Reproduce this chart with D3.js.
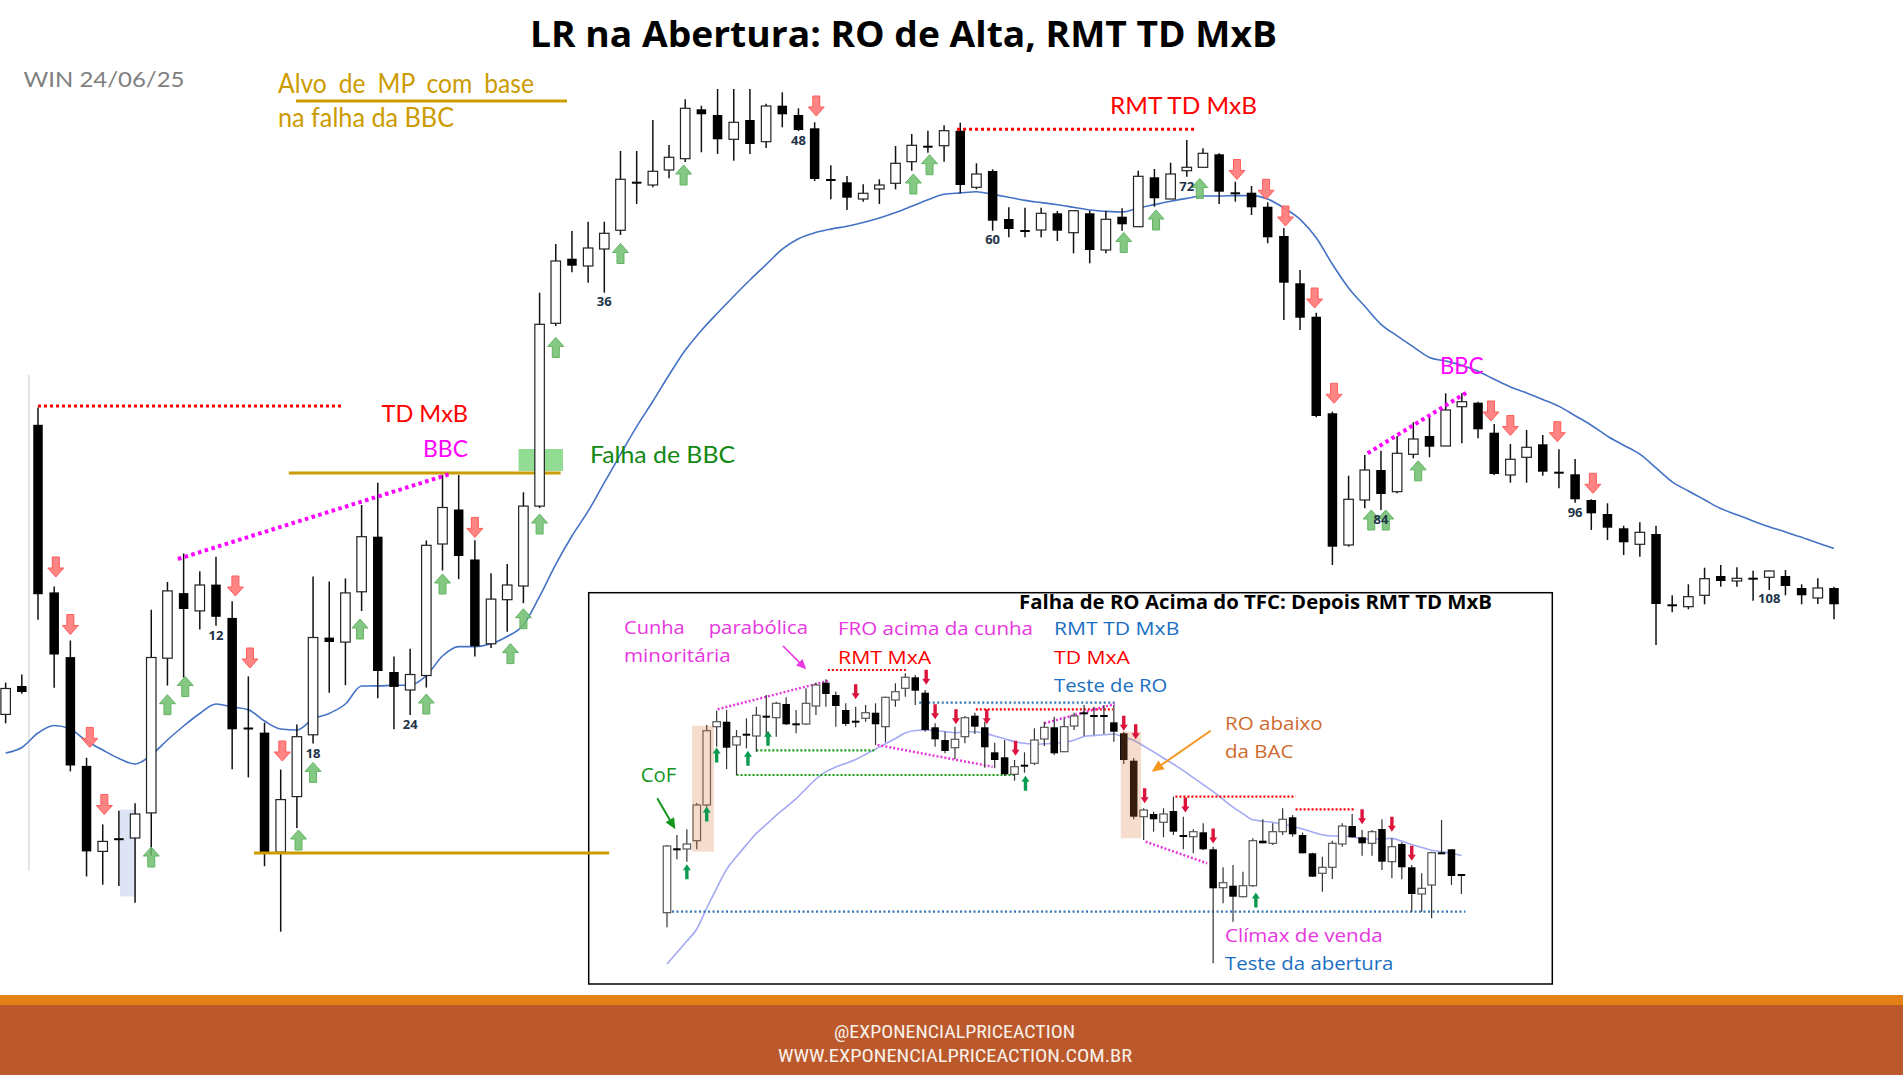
<!DOCTYPE html>
<html lang="pt-BR">
<head>
<meta charset="utf-8">
<title>LR na Abertura: RO de Alta, RMT TD MxB</title>
<script src="https://cdn.jsdelivr.net/npm/d3@7"></script>
<style>
html,body{margin:0;padding:0;background:#fff;overflow:hidden;}
svg{display:block;}
</style>
</head>
<body>
<svg id="chart" width="1903" height="1075"></svg>
<script>
// ===================== DATA (price in chart points) =====================
// Main chart: candles -1 and 0 are from the previous session, then candles 1..112
const mainFirstIndex = -1;
const mainOpen = [285.6,314,575.2,407.6,342.9,234.1,148.6,160.8,162,187.1,
341.8,406.9,389.1,415.4,382.1,271.5,267.4,147.9,203.4,265.2,
362.4,357.9,408.2,463.3,328,310,324.5,456,490.5,440.5,
356.2,400.3,414,493.9,676.7,741.3,734,751,769.7,817.3,
815,830,841.3,890.7,885,860.7,880,858.3,894.3,885,
871.7,820,817.7,801,811,816.7,838.3,853.3,854.3,869.3,
812.7,829,781,769,770,786.7,767.3,786.7,750,783.3,
773.3,822.7,801,829.3,832.7,845.7,806.7,807.3,793.3,764,
716.7,683.3,586.7,455,500,530,508.3,545.7,564,554,
593.3,597.3,567.3,525,542.7,555.7,527.3,525.7,500,486,
471.7,455.7,466,394.7,393.3,404.7,424,419,421.3,422.7,
424,412,402,412];
const mainHigh = [317.4,325.5,592.6,413.6,359.5,242.2,175.6,189.3,196.7,390.2,
418,446.5,428.7,443.2,398.8,323.6,277.4,230.4,275.6,423.6,
418.5,421.6,495,517.3,343.4,351.3,459.5,524.9,525,459.8,
426.8,436,507.7,707.3,756,769,778.3,778.3,849,849,
880,855,900.7,894.3,911,911,911,896.3,907.7,891.7,
877.7,834.7,824,815.7,820.7,854,866,869.3,874.7,877.3,
836.7,830.7,792.7,792.3,792.3,789,790,789.3,789,791.7,
829.3,831,837.3,860,851.7,846.7,818.3,814,797.7,772,
730,687.3,588.3,524.3,545,549.3,564,577.7,584,606.7,
606.7,598.3,576,556,570,565,550.7,541,500.7,496.7,
474.3,477.7,474.3,404.7,415.7,432.3,435,432.7,429.3,429.3,
430,415.7,421.7,413.3];
const mainLow = [276.7,306.3,380.3,312.2,228.6,123.5,115.3,113.9,97.2,144.2,
314.4,322.5,370.6,374.3,230.8,222.6,133.8,68.3,172,256.4,
307.3,314.8,389,301.7,270.8,284.9,312.4,429.5,420.9,343.4,
352,368.2,396.8,492,674,727.7,717.3,707.3,765,796,
812.7,821.7,838,847.7,846,839.3,846,852,872.7,869,
819,800.7,790,798.3,796,810.7,829.3,847.3,838.3,806.7,
810.7,769.3,762.7,762.7,762.7,759,746.7,736.7,746.7,769.3,
773.3,793.3,801,823.3,832.7,796,798.3,785,756.7,680,
670,582.7,435,453.3,491.7,490,506.7,541.7,542.7,554,
556.7,561.7,525,517.3,517.3,524.3,511.7,497.3,470,460,
445,443.3,355,387.7,390.7,395.7,413.3,413.3,399.3,410,
404.7,395.7,396,380.7];
const mainClose = [311.5,308,405.8,345.5,234.5,148.6,158.6,160.8,186,342.5,
409.1,391,415,383.2,270.7,271.5,147.2,200.4,263.3,362.5,
358,407.1,463.3,329,313.1,325.5,454.7,492.5,444,353.8,
400.9,415,493.9,675.7,739,734.3,752,766.7,820.7,817.3,
828.7,842.7,891.7,885.7,860.7,877.7,856,894,885.7,870,
821,820,802.3,806.7,815,836.7,854.7,853.3,869.3,815,
826,779.3,771,769,786.7,769.3,789.3,750,780.7,775.7,
823.7,801.7,826,832.7,846.7,808.3,806.7,792.7,762.7,717.3,
682.3,584,453.3,500.7,530,506,546.7,561,553.3,590,
598.3,570.7,526,540.7,552.7,528.3,527.3,500.7,486.7,472.3,
457.7,467.7,396,394.7,403.3,421.3,419,421.7,421.3,429,
414,404.7,412,395.7];
const mainEma = [247,252.5,267,274.5,271,259,250,241.5,236,245,
260,274,286.5,296,293,290.3,279,271,270,281,
286.6,296,314,314.1,314.7,314.8,324.3,344,353.4,353.4,
356.2,363.5,375,403.6,435.6,464,488.8,517.3,545.7,573.4,
598.7,625,649.7,669.6,687,703.8,720,735.4,750.8,761.3,
767.2,770.9,773.8,777.5,782,787.5,793.8,800.3,805.7,807.1,
808.3,805.6,802.7,799.6,797.4,795.3,792.7,790,788.7,788,
792,795.4,798.7,801.6,804,804,804.4,804.4,801,792,
780.7,762.3,735.7,712,693.7,675.7,664.1,653.1,642.6,639,
634.7,628.7,620.7,613.1,607.1,600.6,593.6,584.3,574.8,563.8,
554.8,545.8,532.1,518.2,509,500.2,491.4,485.3,479.1,473.2,
468,462.7,457,451.4];
const mainCountLabels = [12,18,24,36,48,60,72,84,96,108];
const mainCountLabelLevel = [365.5,247,276.3,699,860,760.7,814,481,488.3,402];
// signal arrows: [candle position, price level]
const mainBuyArrows = [[8,143],[9,295.3],[10.1,313.5],[17.1,160],[18,227.6],[20.9,371],[25,296],[26,416],[30.2,346.4],[31,381.3],[32,476],[33,652.6],[37,746.5],[40.9,825],[55.1,816],[56.1,835.3],[68.1,757.5],[70.1,780],[72.8,811.5],[83.4,480],[84.3,480],[86.3,529.2]];
const mainSellArrows = [[2.1,433],[3,375.5],[4.2,262.6],[5.1,195.5],[13.2,414],[14.1,342],[16.1,249],[28,472.6],[49.1,894],[75.1,830.5],[76.9,810.7],[78.1,784],[79.9,702],[81.1,606.7],[90.8,589],[92,574.5],[94.9,568.3],[97.1,516.7]];
// reference levels / trend lines: [from, to, level] or [from, level, to, level]
const mainRedLevels = [[1,19.85,594],[57.8,72.5,870.7]];
const mainWedgeLines = [[9.65,441,26.46,526],[83.18,546.7,89.38,608.3]];
const mainGoldLevels = [[16.5,33.3,527],[14.35,36.3,147]];
const mainFailBox = [30.7,33.45,529,551];
const mainBlueZone = [6.07,7.0,103.5,190.4];
const sessionBreak = [0.44,129,625];

// Inset chart: candles 0..80
const insetOpen = [87.3,150.7,151,159.3,195,273.3,278.3,255,265.3,264,
283.3,282.3,296,275.7,276,294,317.3,305,290,278.3,
281.7,287.3,273.3,300,311.7,322.7,307.3,272.7,260,252.3,
263.3,284.3,272.7,247.7,242.7,225.7,234.3,236.7,261,272.7,
248.3,274,286.7,284,284,277.7,266.7,239.3,183.3,186,
177.7,189,164,163.3,167.7,150.7,112.3,114.3,103.3,114.3,
159.3,156.7,168.3,182.7,165,146.7,126.7,132.7,156,174,
162.7,156.7,171,138.3,156,132.7,106,115,146.7,150.7,125];
const insetHigh = [155,165,170.7,197,275,289.3,290,270,281.7,293.3,
305,298.3,302.7,290,311.7,317.3,320.7,308.3,296.7,293.3,
295,296.7,303.3,316.7,326.7,325,310,276.7,268.3,273.3,
284,287.3,278.3,257.3,260,240,247.7,271.7,278.3,283.3,
281.7,287.3,295,293.3,295,295,268.3,242,191.7,188.3,
191.7,203.3,183.3,170.7,176.7,153.3,132.7,135,128.3,161.7,
180.7,176.7,191.7,185,167.3,147.3,143.3,159.3,176.7,186,
170,170,180.7,161.7,157.7,135,126.7,148.3,180,150.7,125];
const insetLow = [72.7,140.7,138.3,150.7,193.3,253.3,231,225,251.7,248.3,
263.3,263.3,275,266.7,275,285,293.3,273.3,274,272.7,
278.3,255,257.7,293.3,303.3,295,268.3,253.3,246.7,240.7,
256.7,266,232.3,231.7,224.3,219.3,227.3,235,254,245,
248.3,270,264,265,266,258.3,236,180.7,160,168.3,
162.7,165,150.7,146.7,150,36.7,96.7,78.3,102.7,113.3,
156.7,155,165,163.3,146.7,123.3,108.3,121,153.3,162.7,
144.3,144.3,130,121.7,120.7,88.3,88.3,81.7,146,115,106];
const insetClose = [154,150.7,156,195,269.3,278.3,252.3,263.3,265.3,284.7,
283.3,296.7,275.7,275.7,296.7,315,306,294,276,278.3,
287.3,275.7,302.7,308.3,322.7,309.3,270,260.7,249,260.7,
282.3,273.3,252.7,240,225.7,233.3,234.3,260,272.7,246.7,
273.3,284,286.7,284,284,268.3,240,183.3,190,180.7,
186,168.3,164,168.3,150.7,111.7,117.3,103.3,114.3,159.3,
156.7,168.3,180.7,165.7,146.7,123.3,132.7,156.7,174,162.7,
156.7,168.3,138.3,153.3,132.7,106,111.7,147.3,146.7,124,125];
const insetEma = [36,47.5,59,71,92,111.7,130.6,143.4,155.2,166.6,
175.6,184.6,192.9,201.4,211.3,221,228.4,232.9,236.6,240.5,
245.7,250.9,256.2,261.5,266.9,269.5,270,269.5,268.4,267.3,
267.8,268.2,266.6,264.1,261.3,258.3,256.7,255.8,256.2,256.7,
257.8,259.8,263.5,264.4,265.2,266,262.8,259.8,254,248.1,
242,235.8,229.3,222.4,215.4,208.4,200.6,192.9,186.3,180.2,
178.8,177.6,176.1,173.5,171,168.1,165.2,164,164,163.1,
161.4,160.9,161.3,161.6,158.9,155.5,152.6,149.8,148.3,146.7,144.4];
const insetBuyArrows = [[2,128.3],[4,186],[5,245],[8.15,241.7],[10.17,261.7],[36.1,216.7],[59.3,100]];
const insetSellArrows = [[19,308.3],[26.1,322.7],[27,288.3],[29.1,283.3],[32.2,283.3],[35.1,251.7],[46,276.7],[47.2,268.3],[48.1,204.3],[52.2,195],[55,164],[70,183.3],[73,175.7],[75,146.7]];
const insetBlueLevels = [[-0.4,80.4,88.3],[25.4,45.1,297.3]];
const insetRedLevels = [[16.2,24.1,330],[31.1,44.9,290.7],[51.2,63.3,203.3],[63.3,69.3,190.7]];
const insetWedgeLines = [[5.1,290.7,16.3,319.3],[21.2,255,32.8,233.3],[38,276.7,45.1,296],[48.2,158.3,54.4,136.7]];
const insetGreenLevels = [[9,21.1,249.7],[7,35.2,225]];
const insetZones = [[2.52,4.73,148.3,274.3],[45.7,47.74,161.7,268.3]];

// ===================== DRAWING =====================
const GOLD = '#cc9b00', MAG = '#ff00ff', MAG2 = '#e836e0', RED = '#ff0000',
      BLUE2 = '#1b6fc2', ORANGE2 = '#cf6a2e', GREEN2 = '#14961e';
const LATO = 'Lato, "Liberation Sans", sans-serif';
const OPEN = '"Open Sans", "Noto Sans", sans-serif';
const NARROW = '"Liberation Sans Narrow", "Roboto Condensed", Roboto, sans-serif';

const svg = d3.select('#chart');
svg.append('rect').attr('width',1903).attr('height',1075).attr('fill','#fff');

const x = d3.scaleLinear().domain([1,112]).range([38,1834]);
const y = d3.scaleLinear().domain([0,1000]).range([1000,0]);
const xi = d3.scaleLinear().domain([0,80]).range([667,1461.4]);
const yi = d3.scaleLinear().domain([0,1000]).range([1000,0]);

function build(o,h,l,c,first){ return o.map((v,k)=>({i:first+k,o:v,h:h[k],l:l[k],c:c[k]})); }
const mainCandles = build(mainOpen,mainHigh,mainLow,mainClose,mainFirstIndex);
const insetCandles = build(insetOpen,insetHigh,insetLow,insetClose,0);

function drawCandles(g,data,xs,ys,bw,wickW,wickColor,outline){
  const cg = g.append('g');
  cg.selectAll('line').data(data).join('line')
    .attr('x1',d=>xs(d.i)).attr('x2',d=>xs(d.i))
    .attr('y1',d=>ys(d.h)).attr('y2',d=>ys(d.l))
    .attr('stroke',wickColor).attr('stroke-width',wickW);
  cg.selectAll('rect').data(data).join('rect')
    .attr('x',d=>xs(d.i)-bw/2)
    .attr('y',d=>{const t=ys(Math.max(d.o,d.c)),b=ys(Math.min(d.o,d.c));return (b-t<2)?(t+b)/2-1:t;})
    .attr('width',bw)
    .attr('height',d=>Math.max(2,Math.abs(ys(d.o)-ys(d.c))))
    .attr('fill',d=>d.c>d.o?'#fff':'#000')
    .attr('stroke',d=>d.c>d.o?outline:'none')
    .attr('stroke-width',1.2);
}
function arrowPath(w,h,sw,hh){
  const t=-h/2,b=h/2,hw=w/2,s=sw/2,hb=t+hh;
  return `M0,${t}L${hw},${hb}L${s},${hb}L${s},${b}L${-s},${b}L${-s},${hb}L${-hw},${hb}Z`;
}
function drawArrows(g,list,xs,ys,up,shape,fill,stroke){
  g.append('g').selectAll('path').data(list).join('path')
    .attr('d',shape)
    .attr('transform',d=>`translate(${xs(d[0])},${ys(d[1])})${up?'':' rotate(180)'}`)
    .attr('fill',fill).attr('stroke',stroke).attr('stroke-width',stroke==='none'?0:1);
}
function hLevels(g,list,xs,ys,color,w,dash){
  g.append('g').selectAll('line').data(list).join('line')
    .attr('x1',d=>xs(d[0])).attr('x2',d=>xs(d[1]))
    .attr('y1',d=>ys(d[2])).attr('y2',d=>ys(d[2]))
    .attr('stroke',color).attr('stroke-width',w).attr('stroke-dasharray',dash);
}
function sLines(g,list,xs,ys,color,w,dash){
  g.append('g').selectAll('line').data(list).join('line')
    .attr('x1',d=>xs(d[0])).attr('y1',d=>ys(d[1]))
    .attr('x2',d=>xs(d[2])).attr('y2',d=>ys(d[3]))
    .attr('stroke',color).attr('stroke-width',w).attr('stroke-dasharray',dash);
}
function label(g,s,x0,yb,size,color,family,weight,width){
  const t = g.append('text').attr('x',x0).attr('y',yb)
    .attr('font-family',family).attr('font-size',size).attr('font-weight',weight||400)
    .attr('fill',color).text(s);
  if(width) t.attr('textLength',width).attr('lengthAdjust','spacingAndGlyphs');
  return t;
}
function pointer(g,x1,y1,x2,y2,color,w,head){
  const a=Math.atan2(y2-y1,x2-x1);
  g.append('line').attr('x1',x1).attr('y1',y1)
    .attr('x2',x2-head*0.8*Math.cos(a)).attr('y2',y2-head*0.8*Math.sin(a))
    .attr('stroke',color).attr('stroke-width',w);
  const bx=x2-head*Math.cos(a), by=y2-head*Math.sin(a), px=-Math.sin(a)*head*0.45, py=Math.cos(a)*head*0.45;
  g.append('path').attr('d',`M${x2},${y2}L${bx+px},${by+py}L${bx-px},${by-py}Z`).attr('fill',color);
}

// ---------- main chart ----------
const gm = svg.append('g');
gm.append('rect').attr('x',x(mainBlueZone[0])).attr('width',x(mainBlueZone[1])-x(mainBlueZone[0]))
  .attr('y',y(mainBlueZone[3])).attr('height',y(mainBlueZone[2])-y(mainBlueZone[3])).attr('fill','#dde4f6');
gm.append('line').attr('x1',x(sessionBreak[0])).attr('x2',x(sessionBreak[0]))
  .attr('y1',y(sessionBreak[2])).attr('y2',y(sessionBreak[1])).attr('stroke','#dcdcdc').attr('stroke-width',1.5);
gm.append('rect').attr('x',x(mainFailBox[0])).attr('width',x(mainFailBox[1])-x(mainFailBox[0]))
  .attr('y',y(mainFailBox[3])).attr('height',y(mainFailBox[2])-y(mainFailBox[3])).attr('fill','#93dc93');
gm.append('path').datum(mainEma.map((v,k)=>[mainFirstIndex+k,v]))
  .attr('d',d3.line().x(d=>x(d[0])).y(d=>y(d[1])).curve(d3.curveMonotoneX))
  .attr('fill','none').attr('stroke','#4472c4').attr('stroke-width',1.6);
hLevels(gm,mainGoldLevels.slice(0,1),x,y,GOLD,3,null);
drawCandles(gm,mainCandles,x,y,9.5,1.5,'#111','#222');
hLevels(gm,mainRedLevels,x,y,RED,3,'3,3');
sLines(gm,mainWedgeLines,x,y,MAG,4,'3.5,3.5');
const bigArrow = arrowPath(16,20,7,9);
drawArrows(gm,mainBuyArrows,x,y,true,bigArrow,'rgba(110,190,110,0.85)','#62b462');
drawArrows(gm,mainSellArrows,x,y,false,bigArrow,'rgba(255,120,120,0.9)','#ff5c5c');
gm.append('g').selectAll('text').data(mainCountLabels).join('text')
  .attr('x',(d)=>x(d)).attr('y',(d,k)=>y(mainCountLabelLevel[k]))
  .attr('text-anchor','middle').attr('dominant-baseline','central')
  .attr('font-family',OPEN).attr('font-weight',700).attr('font-size',13)
  .attr('fill','#22344a').text(d=>d);

label(gm,'LR na Abertura: RO de Alta, RMT TD MxB',530,46.7,36,'#000',OPEN,700,747);
label(gm,'WIN 24/06/25',23.5,87.3,22,'#7f7f7f',LATO,400,161);
label(gm,'Alvo de MP com base',278,93,26,GOLD,LATO,400,256).attr('word-spacing',6);
label(gm,'na falha da BBC',278,126.7,26,GOLD,LATO,400,176);
gm.append('line').attr('x1',296).attr('x2',567).attr('y1',101).attr('y2',101).attr('stroke',GOLD).attr('stroke-width',3);
label(gm,'TD MxB',381.5,422.4,24,RED,LATO,400,86.5);
label(gm,'BBC',423,456.8,24,MAG,LATO,400,45);
label(gm,'Falha de BBC',590,462.7,24,'#118811',LATO,400,145);
label(gm,'RMT TD MxB',1110,114.3,23,RED,LATO,400,147);
label(gm,'BBC',1440,374.3,23,MAG,LATO,400,43.5);

// ---------- inset ----------
const gi = svg.append('g');
gi.append('rect').attr('x',588.7).attr('y',592.7).attr('width',963.6).attr('height',391.3)
  .attr('fill','#fff').attr('stroke','#000').attr('stroke-width',1.5);
gi.append('path').datum(insetEma.map((v,k)=>[k,v]))
  .attr('d',d3.line().x(d=>xi(d[0])).y(d=>yi(d[1])).curve(d3.curveMonotoneX))
  .attr('fill','none').attr('stroke','#a3a9f2').attr('stroke-width',1.6);
hLevels(gi,insetBlueLevels,xi,yi,'#2e75b6',2.2,'2,2.5');
hLevels(gi,insetRedLevels,xi,yi,RED,2.2,'2,2');
hLevels(gi,insetGreenLevels,xi,yi,'#13a013',2.2,'2,2');
sLines(gi,insetWedgeLines,xi,yi,MAG2,2.5,'2,2');
drawCandles(gi,insetCandles,xi,yi,7.5,1.2,'#333','#555');
gi.append('g').selectAll('rect').data(insetZones).join('rect')
  .attr('x',d=>xi(d[0])).attr('width',d=>xi(d[1])-xi(d[0]))
  .attr('y',d=>yi(d[3])).attr('height',d=>yi(d[2])-yi(d[3]))
  .attr('fill','rgb(215,120,60)').attr('fill-opacity',0.25);
const smallArrow = arrowPath(8,15,3.4,6);
drawArrows(gi,insetBuyArrows,xi,yi,true,smallArrow,'#0a9a50','none');
drawArrows(gi,insetSellArrows,xi,yi,false,smallArrow,'#dc143c','none');

label(gi,'Falha de RO Acima do TFC: Depois RMT TD MxB',1019,608.5,19,'#000',OPEN,700,473);
label(gi,'Cunha',624,634,19,MAG2,OPEN,400,60.7);
label(gi,'parabólica',708.7,634,19,MAG2,OPEN,400,99.3);
label(gi,'minoritária',624,661.5,19,MAG2,OPEN,400,106.7);
label(gi,'FRO acima da cunha',838,635,19,MAG2,OPEN,400,195);
label(gi,'RMT MxA',838,663.5,19,RED,OPEN,400,93.3);
label(gi,'CoF',640.7,781.7,20,GREEN2,OPEN,400,35.6);
label(gi,'RMT TD MxB',1054,635,19,BLUE2,OPEN,400,125.3);
label(gi,'TD MxA',1054,663.5,19,RED,OPEN,400,76);
label(gi,'Teste de RO',1054,691.7,19,BLUE2,OPEN,400,113.3);
label(gi,'RO abaixo',1225,730,19,ORANGE2,OPEN,400,97.7);
label(gi,'da BAC',1225,758.3,19,ORANGE2,OPEN,400,68.3);
label(gi,'Clímax de venda',1225,941.7,19,MAG2,OPEN,400,157.7);
label(gi,'Teste da abertura',1225,970,19,BLUE2,OPEN,400,168.3);
const insetPointers = [
  {from:[11.68,354],to:[14.03,330.7],color:MAG2,w:1.6,head:10},
  {from:[-0.98,201.7],to:[0.84,170.7],color:GREEN2,w:2,head:11},
  {from:[54.75,269.3],to:[48.81,228.3],color:'#f5961e',w:2,head:12}
];
insetPointers.forEach(p=>pointer(gi,xi(p.from[0]),yi(p.from[1]),xi(p.to[0]),yi(p.to[1]),p.color,p.w,p.head));

// lower target level drawn over the inset frame
hLevels(svg,mainGoldLevels.slice(1),x,y,GOLD,3,null);

// ---------- footer ----------
svg.append('rect').attr('x',0).attr('y',995).attr('width',1903).attr('height',10).attr('fill','#e38216');
svg.append('rect').attr('x',0).attr('y',1005).attr('width',1903).attr('height',70).attr('fill','#bc592c');
label(svg,'@EXPONENCIALPRICEACTION',834,1038,18,'#f8f1ea',NARROW,400,241);
label(svg,'WWW.EXPONENCIALPRICEACTION.COM.BR',778,1061.7,18,'#f8f1ea',NARROW,400,354);
</script>
</body>
</html>
